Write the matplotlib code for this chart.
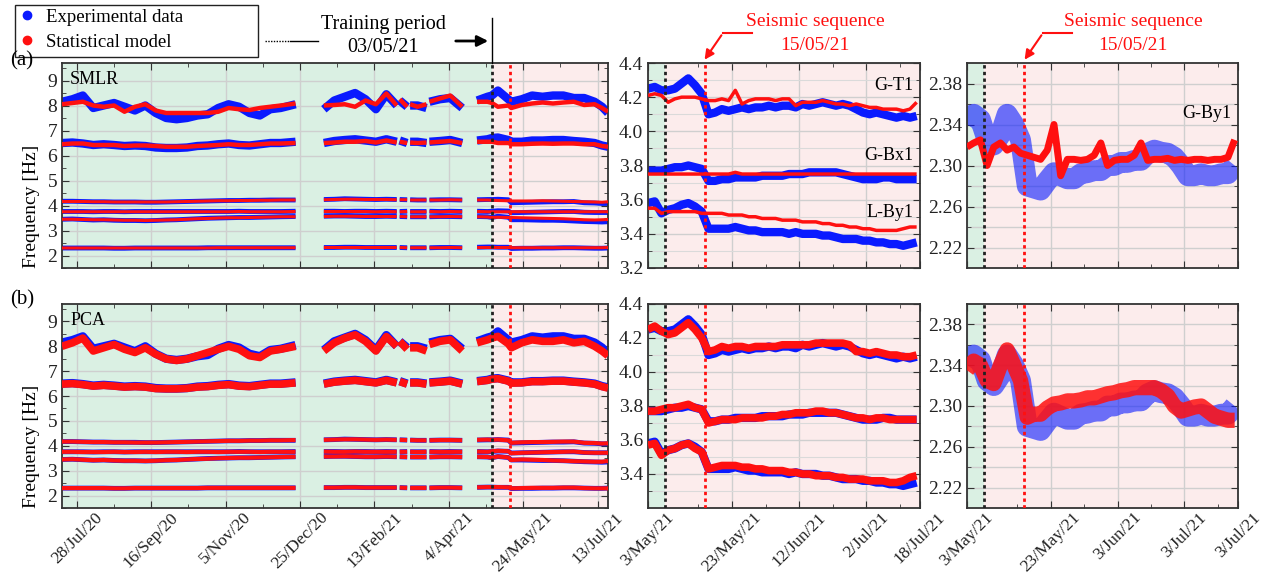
import numpy as np
import pandas as pd
import matplotlib
matplotlib.use('Agg')
import matplotlib.pyplot as plt
from matplotlib.lines import Line2D
from matplotlib.patches import FancyArrowPatch, Rectangle

plt.rcParams['font.family'] = ['Liberation Serif', 'DejaVu Serif']

nan = np.nan

# ---- full record (left panels), roughly weekly samples, nan = gap in monitoring
dates_long = pd.to_datetime([
    '2020-07-18', '2020-07-25', '2020-08-01', '2020-08-08', '2020-08-15', '2020-08-22', '2020-08-29',
    '2020-09-05', '2020-09-12', '2020-09-19', '2020-09-26', '2020-10-03', '2020-10-10', '2020-10-17',
    '2020-10-24', '2020-10-31', '2020-11-07', '2020-11-14', '2020-11-21', '2020-11-28', '2020-12-05',
    '2020-12-12', '2020-12-22', '2020-12-30', '2021-01-10', '2021-01-17', '2021-01-24', '2021-01-31',
    '2021-02-07', '2021-02-14', '2021-02-21', '2021-02-28', '2021-03-01', '2021-03-02', '2021-03-07',
    '2021-03-08', '2021-03-09', '2021-03-14', '2021-03-20', '2021-03-21', '2021-03-22', '2021-03-29',
    '2021-04-05', '2021-04-13', '2021-04-18', '2021-04-23', '2021-04-30', '2021-05-03', '2021-05-07',
    '2021-05-14', '2021-05-16', '2021-05-23', '2021-05-30', '2021-06-06', '2021-06-13', '2021-06-20',
    '2021-06-27', '2021-07-04', '2021-07-11', '2021-07-16', '2021-07-20'])

# experimental data, one list per mode
exp_8 = [8.15, 8.25, 8.40, 7.90, 8.00, 8.10, 7.95, 7.80, 8.00, 7.70, 7.50, 7.45, 7.50, 7.60, 7.65, 7.90,
         8.05, 7.95, 7.70, 7.60, 7.85, 7.90, 8.05, nan, 7.85, 8.20, 8.35, 8.50, 8.25, 7.85, 8.45, 8.00,
         nan, 8.20, 7.95, nan, 8.00, 8.00, 7.90, nan, 8.15, 8.25, 8.30, 7.90, nan, 8.20, 8.35,
         8.40, 8.60, 8.25, 8.15, 8.25, 8.40, 8.35, 8.40, 8.40, 8.30, 8.30, 8.15, 7.95, 7.70]
exp_6 = [6.50, 6.52, 6.48, 6.42, 6.45, 6.42, 6.38, 6.40, 6.38, 6.32, 6.30, 6.30, 6.32, 6.38, 6.40, 6.45,
         6.48, 6.42, 6.40, 6.45, 6.50, 6.50, 6.55, nan, 6.50, 6.58, 6.62, 6.65, 6.60, 6.55, 6.65, 6.55,
         nan, 6.60, 6.50, nan, 6.55, 6.55, 6.50, nan, 6.55, 6.58, 6.62, 6.50, nan, 6.60, 6.65,
         6.70, 6.72, 6.62, 6.55, 6.55, 6.60, 6.60, 6.62, 6.62, 6.58, 6.55, 6.50, 6.40, 6.35]
exp_4 = [4.17, 4.17, 4.16, 4.15, 4.15, 4.14, 4.14, 4.14, 4.13, 4.13, 4.14, 4.15, 4.16, 4.17, 4.18, 4.19,
         4.20, 4.20, 4.21, 4.21, 4.22, 4.22, 4.22, nan, 4.24, 4.25, 4.27, 4.26, 4.25, 4.24, 4.25, 4.24,
         nan, 4.24, 4.23, nan, 4.23, 4.22, 4.22, nan, 4.22, 4.23, 4.23, 4.22, nan, 4.23, 4.24,
         4.24, 4.25, 4.23, 4.11, 4.12, 4.13, 4.14, 4.15, 4.15, 4.16, 4.11, 4.10, 4.08, 4.08]
exp_37 = [3.76, 3.76, 3.76, 3.75, 3.76, 3.76, 3.75, 3.76, 3.76, 3.76, 3.76, 3.76, 3.76, 3.76, 3.76, 3.76,
          3.76, 3.77, 3.76, 3.76, 3.76, 3.76, 3.77, nan, 3.77, 3.77, 3.76, 3.77, 3.77, 3.76, 3.77, 3.76,
          nan, 3.76, 3.77, nan, 3.76, 3.76, 3.76, nan, 3.77, 3.76, 3.77, 3.76, nan, 3.77, 3.76,
          3.77, 3.79, 3.78, 3.71, 3.72, 3.73, 3.74, 3.75, 3.76, 3.76, 3.73, 3.72, 3.72, 3.72]
exp_35 = [3.45, 3.46, 3.44, 3.42, 3.43, 3.41, 3.40, 3.40, 3.39, 3.40, 3.42, 3.43, 3.45, 3.47, 3.49, 3.50,
          3.51, 3.52, 3.52, 3.53, 3.54, 3.55, 3.56, nan, 3.57, 3.58, 3.58, 3.57, 3.56, 3.56, 3.57, 3.56,
          nan, 3.56, 3.55, nan, 3.55, 3.55, 3.55, nan, 3.55, 3.56, 3.56, 3.55, nan, 3.56, 3.55,
          3.52, 3.57, 3.53, 3.43, 3.43, 3.42, 3.41, 3.41, 3.40, 3.38, 3.36, 3.35, 3.34, 3.35]
exp_23 = [2.30, 2.30, 2.30, 2.30, 2.30, 2.29, 2.29, 2.30, 2.30, 2.30, 2.30, 2.30, 2.30, 2.30, 2.31, 2.31,
          2.31, 2.31, 2.31, 2.31, 2.31, 2.31, 2.31, nan, 2.32, 2.32, 2.33, 2.33, 2.32, 2.32, 2.32, 2.32,
          nan, 2.32, 2.31, nan, 2.31, 2.31, 2.31, nan, 2.31, 2.32, 2.32, 2.31, nan, 2.33, 2.34,
          2.34, 2.33, 2.33, 2.28, 2.29, 2.29, 2.30, 2.30, 2.31, 2.31, 2.30, 2.29, 2.29, 2.30]

# SMLR model
smlr_8 = [8.05, 8.10, 8.15, 8.00, 7.95, 8.00, 7.75, 7.95, 8.05, 7.80, 7.70, 7.70, 7.70, 7.70, 7.70, 7.75,
          7.90, 7.85, 7.82, 7.90, 7.95, 8.00, 8.08, nan, 8.00, 8.02, 8.05, 7.95, 8.20, 8.05, 8.48, 8.00,
          nan, 8.25, 7.95, nan, 8.05, 7.95, 8.05, nan, 8.15, 8.28, 8.40, 7.95, nan, 8.15, 8.15,
          8.10, 7.95, 8.00, 7.90, 8.02, 8.08, 8.12, 8.08, 8.12, 8.15, 8.02, 8.05, 7.90, 7.75]
smlr_6 = [6.45, 6.48, 6.48, 6.42, 6.42, 6.42, 6.38, 6.40, 6.40, 6.38, 6.35, 6.35, 6.35, 6.38, 6.40, 6.42,
          6.45, 6.42, 6.42, 6.45, 6.48, 6.48, 6.50, nan, 6.50, 6.52, 6.55, 6.55, 6.58, 6.52, 6.60, 6.52,
          nan, 6.55, 6.50, nan, 6.52, 6.50, 6.52, nan, 6.52, 6.55, 6.58, 6.50, nan, 6.55, 6.55,
          6.55, 6.50, 6.50, 6.45, 6.45, 6.47, 6.48, 6.47, 6.48, 6.48, 6.45, 6.45, 6.38, 6.35]
smlr_4 = [4.16, 4.16, 4.16, 4.15, 4.15, 4.14, 4.14, 4.14, 4.14, 4.14, 4.14, 4.15, 4.16, 4.17, 4.18, 4.19,
          4.19, 4.20, 4.20, 4.21, 4.21, 4.22, 4.22, nan, 4.23, 4.24, 4.25, 4.25, 4.24, 4.24, 4.24, 4.23,
          nan, 4.23, 4.23, nan, 4.22, 4.22, 4.22, nan, 4.22, 4.22, 4.23, 4.22, nan, 4.22, 4.22,
          4.21, 4.20, 4.19, 4.18, 4.18, 4.18, 4.19, 4.18, 4.17, 4.16, 4.15, 4.14, 4.13, 4.15]
smlr_37 = [3.75, 3.75, 3.75, 3.75, 3.75, 3.75, 3.75, 3.75, 3.75, 3.75, 3.75, 3.75, 3.75, 3.75, 3.75, 3.75,
           3.75, 3.76, 3.75, 3.75, 3.75, 3.75, 3.76, nan, 3.76, 3.76, 3.76, 3.76, 3.76, 3.75, 3.76, 3.75,
           nan, 3.75, 3.76, nan, 3.75, 3.75, 3.75, nan, 3.76, 3.75, 3.76, 3.75, nan, 3.76, 3.75,
           3.75, 3.75, 3.75, 3.75, 3.75, 3.75, 3.75, 3.75, 3.75, 3.75, 3.75, 3.75, 3.75, 3.75]
smlr_35 = [3.45, 3.45, 3.44, 3.43, 3.43, 3.42, 3.41, 3.41, 3.40, 3.41, 3.42, 3.43, 3.45, 3.47, 3.48, 3.50,
           3.51, 3.51, 3.52, 3.53, 3.54, 3.55, 3.55, nan, 3.56, 3.57, 3.57, 3.57, 3.56, 3.56, 3.56, 3.56,
           nan, 3.56, 3.55, nan, 3.55, 3.55, 3.55, nan, 3.55, 3.55, 3.56, 3.55, nan, 3.55, 3.54,
           3.52, 3.53, 3.52, 3.52, 3.51, 3.50, 3.49, 3.48, 3.47, 3.45, 3.43, 3.42, 3.43, 3.44]
smlr_23 = [2.30, 2.30, 2.30, 2.30, 2.30, 2.30, 2.30, 2.30, 2.30, 2.30, 2.30, 2.30, 2.30, 2.30, 2.30, 2.31,
           2.31, 2.31, 2.31, 2.31, 2.31, 2.31, 2.31, nan, 2.32, 2.32, 2.32, 2.32, 2.32, 2.32, 2.32, 2.32,
           nan, 2.32, 2.31, nan, 2.31, 2.31, 2.31, nan, 2.31, 2.31, 2.32, 2.31, nan, 2.32, 2.32,
           2.32, 2.32, 2.32, 2.31, 2.31, 2.31, 2.31, 2.31, 2.31, 2.31, 2.31, 2.31, 2.31, 2.32]

# PCA model
pca_8 = [8.00, 8.14, 8.33, 7.81, 7.94, 8.07, 7.88, 7.75, 7.94, 7.68, 7.49, 7.43, 7.49, 7.62, 7.75, 7.88,
         8.00, 7.88, 7.62, 7.55, 7.81, 7.88, 8.00, nan, 7.81, 8.14, 8.33, 8.46, 8.20, 7.81, 8.39, 8.00,
         nan, 8.20, 7.88, nan, 7.94, 7.94, 7.81, nan, 8.07, 8.20, 8.26, 7.81, nan, 8.14, 8.26,
         8.33, 8.40, 8.10, 7.94, 8.14, 8.26, 8.20, 8.20, 8.26, 8.14, 8.20, 8.00, 7.81, 7.62]
pca_6 = [6.48, 6.50, 6.46, 6.40, 6.43, 6.40, 6.36, 6.38, 6.36, 6.30, 6.29, 6.29, 6.31, 6.36, 6.38, 6.43,
         6.46, 6.40, 6.38, 6.43, 6.48, 6.48, 6.53, nan, 6.48, 6.56, 6.60, 6.63, 6.58, 6.53, 6.63, 6.53,
         nan, 6.58, 6.48, nan, 6.53, 6.53, 6.48, nan, 6.53, 6.56, 6.60, 6.48, nan, 6.58, 6.63,
         6.68, 6.70, 6.60, 6.52, 6.53, 6.58, 6.58, 6.60, 6.60, 6.56, 6.53, 6.48, 6.38, 6.32]
pca_4 = [4.17, 4.17, 4.16, 4.15, 4.15, 4.14, 4.14, 4.13, 4.13, 4.13, 4.14, 4.15, 4.16, 4.17, 4.18, 4.19,
         4.20, 4.20, 4.21, 4.21, 4.22, 4.22, 4.23, nan, 4.24, 4.25, 4.26, 4.26, 4.25, 4.24, 4.25, 4.24,
         nan, 4.24, 4.23, nan, 4.23, 4.22, 4.22, nan, 4.22, 4.23, 4.23, 4.22, nan, 4.24, 4.25,
         4.24, 4.25, 4.22, 4.12, 4.14, 4.15, 4.15, 4.16, 4.17, 4.17, 4.12, 4.11, 4.09, 4.10]
pca_37 = [3.76, 3.76, 3.75, 3.75, 3.75, 3.76, 3.75, 3.75, 3.76, 3.75, 3.76, 3.76, 3.75, 3.76, 3.76, 3.75,
          3.76, 3.76, 3.76, 3.75, 3.76, 3.76, 3.76, nan, 3.77, 3.76, 3.76, 3.77, 3.76, 3.76, 3.76, 3.76,
          nan, 3.76, 3.76, nan, 3.76, 3.75, 3.76, nan, 3.76, 3.76, 3.76, 3.76, nan, 3.77, 3.76,
          3.78, 3.80, 3.78, 3.70, 3.72, 3.73, 3.74, 3.75, 3.76, 3.77, 3.73, 3.72, 3.72, 3.72]
pca_35 = [3.45, 3.46, 3.44, 3.42, 3.43, 3.41, 3.40, 3.40, 3.39, 3.40, 3.42, 3.43, 3.45, 3.47, 3.48, 3.50,
          3.51, 3.52, 3.52, 3.53, 3.54, 3.55, 3.56, nan, 3.57, 3.57, 3.58, 3.57, 3.56, 3.56, 3.57, 3.56,
          nan, 3.56, 3.55, nan, 3.55, 3.55, 3.55, nan, 3.55, 3.56, 3.56, 3.55, nan, 3.56, 3.55,
          3.52, 3.57, 3.53, 3.43, 3.45, 3.44, 3.43, 3.41, 3.40, 3.38, 3.37, 3.36, 3.36, 3.39]
pca_23 = [2.30, 2.30, 2.30, 2.30, 2.30, 2.29, 2.29, 2.30, 2.30, 2.30, 2.30, 2.30, 2.30, 2.30, 2.31, 2.31,
          2.31, 2.31, 2.31, 2.31, 2.31, 2.31, 2.31, nan, 2.32, 2.32, 2.33, 2.33, 2.32, 2.32, 2.32, 2.32,
          nan, 2.32, 2.31, nan, 2.31, 2.31, 2.31, nan, 2.31, 2.32, 2.32, 2.31, nan, 2.33, 2.34,
          2.34, 2.34, 2.33, 2.29, 2.30, 2.31, 2.31, 2.31, 2.32, 2.32, 2.30, 2.29, 2.29, 2.29]

# ---- zoom on the seismic sequence (middle and right panels), every 2 days from 28/Apr/21
dates_zoom = pd.date_range('2021-04-28', '2021-07-17', freq='2D')

exp_gt1 = [4.25, 4.26, 4.24, 4.24, 4.25, 4.28, 4.31, 4.27, 4.22, 4.10, 4.11, 4.13, 4.12, 4.13, 4.14,
           4.13, 4.14, 4.14, 4.15, 4.14, 4.15, 4.15, 4.14, 4.16, 4.15, 4.16, 4.17, 4.16, 4.15, 4.16,
           4.15, 4.13, 4.11, 4.10, 4.11, 4.10, 4.09, 4.08, 4.09, 4.08, 4.09]
exp_gbx1 = [3.77, 3.77, 3.77, 3.78, 3.79, 3.79, 3.80, 3.79, 3.78, 3.71, 3.71, 3.72, 3.72, 3.73, 3.73,
            3.73, 3.73, 3.74, 3.74, 3.74, 3.74, 3.75, 3.75, 3.75, 3.76, 3.76, 3.76, 3.76, 3.76, 3.75,
            3.74, 3.73, 3.72, 3.72, 3.72, 3.73, 3.73, 3.72, 3.72, 3.72, 3.72]
exp_lby1 = [3.58, 3.59, 3.52, 3.54, 3.55, 3.57, 3.58, 3.56, 3.53, 3.43, 3.43, 3.43, 3.43, 3.44, 3.43,
            3.42, 3.42, 3.41, 3.41, 3.41, 3.41, 3.40, 3.41, 3.40, 3.40, 3.40, 3.39, 3.39, 3.38, 3.37,
            3.37, 3.37, 3.36, 3.36, 3.35, 3.35, 3.34, 3.34, 3.33, 3.34, 3.35]
exp_gby1 = [2.340, 2.350, 2.345, 2.325, 2.320, 2.330, 2.350, 2.340, 2.325, 2.280, 2.278, 2.276, 2.285,
            2.293, 2.290, 2.287, 2.287, 2.292, 2.293, 2.295, 2.295, 2.300, 2.300, 2.303, 2.303, 2.305,
            2.305, 2.312, 2.315, 2.313, 2.312, 2.308, 2.300, 2.290, 2.290, 2.292, 2.290, 2.290, 2.292,
            2.292, 2.300]

smlr_gt1 = [4.21, 4.22, 4.21, 4.17, 4.19, 4.20, 4.20, 4.20, 4.19, 4.18, 4.18, 4.19, 4.18, 4.24, 4.16,
            4.18, 4.19, 4.19, 4.19, 4.18, 4.19, 4.19, 4.15, 4.17, 4.17, 4.17, 4.18, 4.17, 4.16, 4.16,
            4.15, 4.16, 4.15, 4.14, 4.14, 4.13, 4.13, 4.13, 4.12, 4.13, 4.17]
smlr_gbx1 = [3.75, 3.75, 3.75, 3.75, 3.75, 3.75, 3.75, 3.75, 3.75, 3.75, 3.75, 3.75, 3.75, 3.76, 3.75,
             3.75, 3.75, 3.75, 3.75, 3.75, 3.75, 3.75, 3.75, 3.75, 3.75, 3.75, 3.75, 3.75, 3.75, 3.75,
             3.75, 3.75, 3.75, 3.75, 3.75, 3.75, 3.75, 3.75, 3.75, 3.75, 3.75]
smlr_lby1 = [3.55, 3.55, 3.52, 3.53, 3.53, 3.53, 3.53, 3.53, 3.52, 3.52, 3.52, 3.52, 3.51, 3.51, 3.51,
             3.50, 3.50, 3.49, 3.49, 3.49, 3.48, 3.48, 3.48, 3.47, 3.47, 3.47, 3.46, 3.46, 3.45, 3.45,
             3.44, 3.44, 3.43, 3.43, 3.42, 3.42, 3.42, 3.42, 3.43, 3.44, 3.44]
smlr_gby1 = [2.318, 2.322, 2.325, 2.300, 2.318, 2.322, 2.315, 2.318, 2.312, 2.310, 2.308, 2.306, 2.315,
             2.340, 2.290, 2.306, 2.306, 2.305, 2.306, 2.310, 2.322, 2.300, 2.305, 2.306, 2.306, 2.310,
             2.322, 2.305, 2.306, 2.306, 2.307, 2.305, 2.306, 2.305, 2.306, 2.306, 2.305, 2.306, 2.306,
             2.308, 2.325]

pca_gt1 = [4.25, 4.27, 4.24, 4.22, 4.23, 4.26, 4.29, 4.25, 4.20, 4.12, 4.13, 4.15, 4.14, 4.15, 4.15,
           4.14, 4.15, 4.15, 4.15, 4.15, 4.16, 4.16, 4.16, 4.16, 4.16, 4.17, 4.17, 4.17, 4.17, 4.17,
           4.16, 4.12, 4.12, 4.11, 4.12, 4.11, 4.10, 4.10, 4.09, 4.09, 4.10]
pca_gbx1 = [3.77, 3.77, 3.78, 3.79, 3.79, 3.80, 3.81, 3.79, 3.78, 3.70, 3.71, 3.72, 3.72, 3.72, 3.73,
            3.73, 3.73, 3.73, 3.74, 3.74, 3.75, 3.75, 3.76, 3.76, 3.76, 3.77, 3.77, 3.76, 3.76, 3.75,
            3.74, 3.73, 3.73, 3.72, 3.73, 3.73, 3.72, 3.72, 3.72, 3.72, 3.72]
pca_lby1 = [3.57, 3.58, 3.51, 3.54, 3.55, 3.57, 3.58, 3.55, 3.53, 3.43, 3.44, 3.45, 3.45, 3.45, 3.44,
            3.44, 3.43, 3.43, 3.42, 3.42, 3.42, 3.41, 3.41, 3.40, 3.40, 3.39, 3.39, 3.39, 3.38, 3.38,
            3.37, 3.37, 3.37, 3.36, 3.36, 3.36, 3.35, 3.35, 3.36, 3.38, 3.39]
pca_gby1 = [2.335, 2.344, 2.340, 2.325, 2.322, 2.340, 2.355, 2.340, 2.325, 2.289, 2.292, 2.292, 2.298,
            2.302, 2.303, 2.305, 2.305, 2.306, 2.308, 2.308, 2.310, 2.312, 2.313, 2.315, 2.316, 2.318,
            2.318, 2.318, 2.318, 2.315, 2.310, 2.300, 2.295, 2.297, 2.299, 2.300, 2.295, 2.290, 2.288,
            2.286, 2.286]

train_end = pd.Timestamp('2021-05-03')
quake = pd.Timestamp('2021-05-15')

long_x0, long_x1 = pd.Timestamp('2020-07-18'), pd.Timestamp('2021-07-20')
zoom_x0, zoom_x1 = pd.Timestamp('2021-04-28'), pd.Timestamp('2021-07-18')

long_ticks = pd.to_datetime(['2020-07-28', '2020-09-16', '2020-11-05', '2020-12-25',
                             '2021-02-13', '2021-04-04', '2021-05-24', '2021-07-13'])
long_minor = pd.to_datetime(['2020-08-22', '2020-10-11', '2020-11-30', '2021-01-19',
                             '2021-03-10', '2021-04-29', '2021-06-18'])
long_labels = ['28/Jul/20', '16/Sep/20', '5/Nov/20', '25/Dec/20', '13/Feb/21', '4/Apr/21',
               '24/May/21', '13/Jul/21']
zoom_ticks = [zoom_x0] + list(pd.to_datetime(['2021-05-23', '2021-06-12', '2021-07-02'])) + [zoom_x1]
zoom_minor = pd.to_datetime(['2021-05-13', '2021-06-02', '2021-06-22', '2021-07-12'])
mid_labels = ['3/May/21', '23/May/21', '12/Jun/21', '2/Jul/21', '18/Jul/21']
right_labels = ['3/May/21', '23/May/21', '3/Jun/21', '3/Jul/21', '3/Jul/21']

BLUE = '#0a1aff'
RED = '#ff1010'
GREEN_BG = '#daf0e3'
PINK_BG = '#fcecec'

W, H = 1266, 575
fig = plt.figure(figsize=(W / 100, H / 100), dpi=100)


def rect(x0, y0, x1, y1):
    return [x0 / W, 1 - y1 / H, (x1 - x0) / W, (y1 - y0) / H]


def style(ax, x0, x1):
    ax.axvspan(x0, train_end, color=GREEN_BG, zorder=0, lw=0)
    ax.axvspan(train_end, x1, color=PINK_BG, zorder=0, lw=0)
    ax.set_xlim(x0, x1)
    ax.grid(True, which='major', color='#cfcfcf', lw=1)
    ax.set_axisbelow(True)
    ax.tick_params(which='both', direction='in', top=True, right=True, labelsize=14,
                   colors='#333333', labelcolor='#222222')
    ax.tick_params(axis='x', labelsize=12.5, pad=1)
    ax.tick_params(which='major', length=5)
    ax.tick_params(which='minor', length=3)
    for s in ax.spines.values():
        s.set_color('#333333')
        s.set_linewidth(1.3)
    ax.axvline(train_end, color='#222222', ls=(0, (1.2, 1.2)), lw=2, zorder=5)
    ax.axvline(quake, color=RED, ls=(0, (1.2, 1.2)), lw=2, zorder=5)


def date_labels(ax, labels, show):
    if show:
        ax.set_xticklabels(labels, rotation=45, ha='center', va='top')
    else:
        ax.set_xticklabels([])


exp_long = [exp_8, exp_6, exp_4, exp_37, exp_35, exp_23]
models_long = {'SMLR': [smlr_8, smlr_6, smlr_4, smlr_37, smlr_35, smlr_23],
               'PCA': [pca_8, pca_6, pca_4, pca_37, pca_35, pca_23]}
exp_mid = [exp_gt1, exp_gbx1, exp_lby1]
models_mid = {'SMLR': [smlr_gt1, smlr_gbx1, smlr_lby1], 'PCA': [pca_gt1, pca_gbx1, pca_lby1]}
models_right = {'SMLR': smlr_gby1, 'PCA': pca_gby1}

rows = [('SMLR', 63, 268), ('PCA', 304, 508)]
for r, (name, y0, y1) in enumerate(rows):
    red_big = 3.2 if name == 'SMLR' else 5.5
    red_small = 2.2 if name == 'SMLR' else 3.0
    red_mid = 2.5 if name == 'SMLR' else 5.5
    red_right = 5 if name == 'SMLR' else 11

    # left: full monitoring period
    ax = fig.add_axes(rect(62, y0, 608, y1))
    style(ax, long_x0, long_x1)
    for k, (e, m) in enumerate(zip(exp_long, models_long[name])):
        ax.plot(dates_long, e, color=BLUE, lw=6 if k < 2 else 3.5, solid_capstyle='butt', zorder=2)
        ax.plot(dates_long, m, color=RED, lw=red_big if k < 2 else red_small,
                solid_capstyle='butt', zorder=3)
    ax.set_ylim(1.5, 9.7)
    ax.set_yticks(range(2, 10))
    ax.set_yticks(np.arange(1.5, 9.7, 0.5), minor=True)
    ax.set_xticks(long_ticks)
    ax.set_xticks(long_minor, minor=True)
    date_labels(ax, long_labels, r == 1)
    ax.set_ylabel('Frequency [Hz]', fontsize=14)
    ax.yaxis.set_label_coords(-0.04, 0.3)
    ax.text(0.015, 0.96, name, transform=ax.transAxes, fontsize=13, va='top', ha='left')

    # middle: G-T1, G-Bx1, L-By1
    ax = fig.add_axes(rect(648, y0, 920, y1))
    style(ax, zoom_x0, zoom_x1)
    ax.grid(True, which='minor', axis='y', color='#dadada', lw=0.8)
    for e, m in zip(exp_mid, models_mid[name]):
        ax.plot(dates_zoom, e, color=BLUE, lw=6, solid_capstyle='butt', zorder=2)
        ax.plot(dates_zoom, m, color=RED, lw=red_mid, solid_capstyle='butt', zorder=3)
    ax.set_ylim(3.2, 4.4)
    ax.set_yticks(np.arange(3.2, 4.41, 0.2) if r == 0 else np.arange(3.4, 4.41, 0.2))
    ax.set_yticks(np.arange(3.3, 4.4, 0.2), minor=True)
    ax.yaxis.set_major_formatter(plt.FormatStrFormatter('%.1f'))
    ax.set_xticks(zoom_ticks)
    ax.set_xticks(zoom_minor, minor=True)
    date_labels(ax, mid_labels, r == 1)
    if r == 0:
        for lab, yy in [('G-T1', 0.888), ('G-Bx1', 0.551), ('L-By1', 0.273)]:
            ax.text(0.975, yy, lab, transform=ax.transAxes, fontsize=13, ha='right', va='center')

    # right: G-By1
    ax = fig.add_axes(rect(967, y0, 1238, y1))
    style(ax, zoom_x0, zoom_x1)
    ax.plot(dates_zoom, exp_gby1, color=BLUE, lw=15, alpha=0.6, solid_capstyle='butt', zorder=2)
    ax.plot(dates_zoom, models_right[name], color=RED, lw=red_right,
            alpha=0.85 if name == 'PCA' else 1, solid_capstyle='butt', zorder=3)
    ax.set_ylim(2.20, 2.40)
    ax.set_yticks([2.22, 2.26, 2.30, 2.34, 2.38])
    ax.set_yticks([2.24, 2.28, 2.32, 2.36], minor=True)
    ax.grid(True, which='minor', axis='y', color='#cfcfcf', lw=1)
    ax.yaxis.set_major_formatter(plt.FormatStrFormatter('%.2f'))
    ax.set_xticks(zoom_ticks)
    ax.set_xticks(zoom_minor, minor=True)
    date_labels(ax, right_labels, r == 1)
    if r == 0:
        ax.text(0.975, 0.756, 'G-By1', transform=ax.transAxes, fontsize=13, ha='right', va='center')


def fx(x):
    return x / W


def fy(y):
    return 1 - y / H


# panel letters
fig.text(fx(22), fy(61), '(a)', fontsize=15, ha='center', va='center')
fig.text(fx(22), fy(300), '(b)', fontsize=15, ha='center', va='center')

# legend, boxed like the original (wide frame)
fig.add_artist(Rectangle((fx(15), fy(57)), fx(258) - fx(15), fy(5) - fy(57), transform=fig.transFigure,
                         fill=False, ec='#222222', lw=1))
handles = [Line2D([], [], ls='none', marker='o', ms=6, color=BLUE),
           Line2D([], [], ls='none', marker='o', ms=6, color=RED)]
fig.legend(handles, ['Experimental data', 'Statistical model'], loc='upper left',
           bbox_to_anchor=(fx(18), fy(7)), frameon=False, fontsize=13.5,
           handlelength=0.8, handletextpad=0.6, borderpad=0.1, labelspacing=0.4, borderaxespad=0)

# training period marker
fig.add_artist(Line2D([fx(265), fx(290)], [fy(41), fy(41)], color='black', lw=1, ls=(0, (1, 1))))
fig.add_artist(Line2D([fx(290), fx(318)], [fy(41), fy(41)], color='black', lw=1))
fig.text(fx(383), fy(25), 'Training period', fontsize=14.5, ha='center', va='center')
fig.text(fx(383), fy(48), '03/05/21', fontsize=14.5, ha='center', va='center')
fig.add_artist(FancyArrowPatch((fx(453), fy(41)), (fx(491), fy(41)), transform=fig.transFigure,
                               arrowstyle='-|>', mutation_scale=16, color='black', lw=2))
fig.add_artist(Line2D([fx(492), fx(492)], [fy(18), fy(63)], color='black', lw=1))

# seismic sequence markers
for cx, lx, tx in [(815, 752, 703), (1133, 1072, 1023)]:
    fig.text(fx(cx), fy(21), 'Seismic sequence', fontsize=14, color=RED, ha='center', va='center')
    fig.text(fx(cx), fy(45), '15/05/21', fontsize=14, color=RED, ha='center', va='center')
    fig.add_artist(Line2D([fx(lx), fx(tx + 20)], [fy(33), fy(33)], color=RED, lw=1.5))
    fig.add_artist(FancyArrowPatch((fx(tx + 20), fy(33)), (fx(tx), fy(62)), transform=fig.transFigure,
                                   arrowstyle='-|>', mutation_scale=14, color=RED, lw=1.5))

fig.savefig('out.png', dpi=100)
